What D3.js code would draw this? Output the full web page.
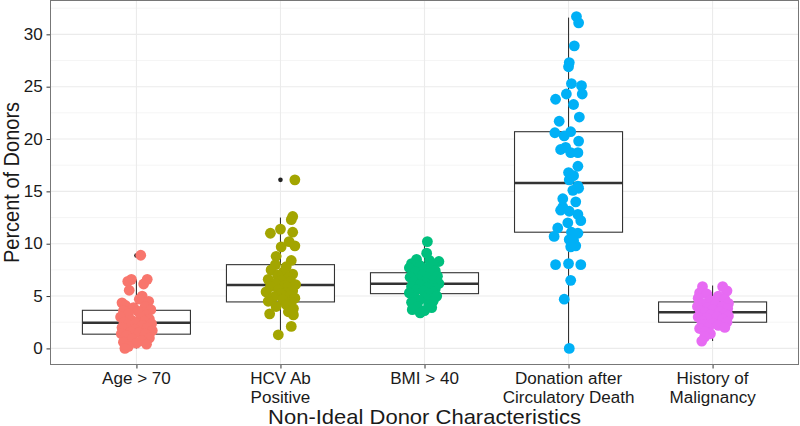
<!DOCTYPE html>
<html>
<head>
<meta charset="utf-8">
<script src="https://cdn.jsdelivr.net/npm/d3@7"></script>
<style>
  body { margin: 0; background: #fff; }
  svg { display: block; font-family: "Liberation Sans", Arial, sans-serif; }
</style>
</head>
<body>
<div id="chart"></div>
<script>
// categories and tick labels
const categories = ["age", "hcv", "bmi", "dcd", "malig"];
const tickLabels = ["Age > 70", "HCV Ab\nPositive", "BMI > 40", "Donation after\nCirculatory Death", "History of\nMalignancy"];
const colors = ["#F8766D", "#A3A500", "#00BF7D", "#00B0F6", "#E76BF3"];
const yTicks = [0, 5, 10, 15, 20, 25, 30];

// box statistics: [lower whisker, Q1, median, Q3, upper whisker]
const boxAge = [0.0, 1.36, 2.45, 3.64, 6.6];
const boxHcv = [1.2, 4.44, 6.06, 8.0, 12.5];
const boxBmi = [3.4, 5.23, 6.18, 7.23, 10.2];
const boxDcd = [0.0, 11.1, 15.8, 20.7, 31.6];
const boxMalig = [0.7, 2.5, 3.45, 4.44, 6.0];
const outliers = [[0, 8.88], [1, 16.1]];

// jittered points: values and horizontal jitter (fraction of category step)
const valAge = [8.9, 6.6, 6.4, 6.6, 6.15, 5.55, 5.0, 4.35, 4.7, 4.5, 4.1, 4.0, 3.9, 3.7, 3.6, 3.55, 3.3, 3.2, 3.0, 2.95, 2.8, 2.7, 2.6, 2.5, 2.45, 2.35, 2.3, 2.2, 2.0, 1.95, 1.85, 1.7, 1.6, 1.5, 1.4, 1.35, 1.2, 1.0, 0.9, 0.75, 0.6, 0.5, 0.4, 0.2, 0.0];
const jitAge = [0.03, -0.035, -0.06, 0.075, 0.05, -0.05, 0.04, -0.1, 0.02, 0.085, -0.075, 0.06, -0.02, 0.1, -0.09, 0.01, -0.055, 0.07, -0.11, 0.03, 0.09, -0.035, 0.055, -0.085, 0.0, 0.105, -0.06, 0.04, -0.1, 0.075, -0.015, 0.11, -0.04, 0.02, -0.105, 0.06, -0.07, 0.09, -0.03, 0.035, -0.09, 0.0, 0.07, -0.055, -0.08];

const valHcv = [16.1, 12.6, 12.3, 11.0, 11.4, 11.1, 10.2, 9.7, 9.8, 8.8, 8.4, 8.0, 7.8, 7.5, 7.3, 7.1, 7.0, 6.8, 6.6, 6.5, 6.4, 6.2, 6.1, 6.0, 5.9, 5.8, 5.6, 5.5, 5.4, 5.3, 5.2, 5.0, 4.9, 4.8, 4.7, 4.5, 4.4, 4.2, 4.0, 3.8, 3.5, 3.3, 3.2, 2.1, 1.3];
const jitHcv = [0.1, 0.085, 0.075, -0.07, 0.0, 0.085, 0.06, 0.005, 0.1, -0.03, 0.075, -0.035, 0.04, -0.065, 0.02, 0.085, -0.02, 0.055, -0.085, 0.005, 0.07, -0.04, 0.105, 0.03, -0.07, 0.05, -0.015, 0.085, -0.1, 0.035, 0.0, 0.065, -0.05, 0.1, 0.015, -0.085, 0.075, 0.04, -0.03, 0.09, 0.055, -0.075, 0.09, 0.075, -0.015];

const valBmi = [10.2, 9.1, 8.5, 8.4, 8.3, 8.1, 8.0, 7.9, 7.7, 7.6, 7.4, 7.3, 7.2, 7.0, 6.9, 6.8, 6.7, 6.6, 6.5, 6.4, 6.3, 6.2, 6.1, 6.0, 5.9, 5.8, 5.7, 5.6, 5.5, 5.4, 5.3, 5.2, 5.0, 4.9, 4.8, 4.6, 4.5, 4.4, 4.2, 4.0, 3.9, 3.7, 3.6, 3.4];
const jitBmi = [0.02, 0.015, -0.055, 0.035, 0.1, -0.09, 0.06, -0.03, -0.105, 0.005, 0.075, -0.065, 0.04, -0.015, 0.09, -0.1, 0.03, -0.04, 0.06, -0.075, 0.0, 0.1, -0.03, 0.05, -0.09, 0.02, 0.075, -0.055, -0.005, 0.055, -0.105, 0.035, 0.085, -0.07, 0.005, -0.035, 0.06, -0.09, 0.03, -0.05, 0.05, -0.085, 0.0, -0.03];

const valDcd = [31.7, 31.1, 28.9, 27.3, 26.9, 25.3, 25.1, 24.3, 24.3, 23.8, 23.3, 22.1, 21.7, 20.6, 20.7, 20.3, 19.8, 19.2, 19.0, 18.7, 18.7, 17.4, 16.8, 16.5, 16.1, 15.5, 15.3, 15.1, 14.3, 14.0, 13.5, 13.2, 13.1, 12.8, 12.2, 12.0, 11.5, 11.1, 11.0, 10.7, 10.4, 10.3, 9.8, 9.7, 8.1, 8.0, 8.0, 6.5, 4.7, 0.0];
const jitDcd = [0.055, 0.07, 0.04, 0.005, 0.0, 0.02, 0.09, 0.095, -0.015, -0.09, 0.035, 0.075, -0.065, -0.095, 0.015, -0.03, 0.07, -0.02, -0.055, 0.015, 0.065, 0.065, 0.0, 0.035, 0.005, 0.065, 0.07, 0.03, -0.04, 0.05, -0.04, -0.055, 0.005, 0.065, 0.085, -0.005, -0.075, 0.02, 0.065, -0.1, 0.005, 0.035, 0.05, 0.015, 0.0, -0.09, 0.085, 0.015, -0.03, 0.005];

const valMalig = [5.9, 5.9, 5.3, 5.5, 5.2, 5.0, 4.8, 4.7, 4.6, 4.3, 4.3, 4.2, 4.0, 4.0, 3.9, 3.8, 3.7, 3.6, 3.5, 3.4, 3.3, 3.2, 3.1, 3.0, 3.0, 2.9, 2.8, 2.6, 2.5, 2.4, 2.3, 2.2, 2.0, 2.0, 1.9, 1.6, 1.4, 1.1, 0.7];
const jitMalig = [-0.07, 0.07, -0.09, 0.1, -0.04, 0.04, -0.1, 0.085, -0.02, 0.11, -0.075, 0.02, -0.105, 0.065, -0.035, 0.105, 0.0, -0.085, 0.05, -0.055, 0.085, -0.015, 0.11, -0.1, 0.03, -0.04, 0.07, -0.075, 0.1, 0.005, -0.065, 0.04, -0.03, 0.085, -0.09, -0.05, -0.015, -0.055, -0.075];

const boxes = [boxAge, boxHcv, boxBmi, boxDcd, boxMalig];
const values = [valAge, valHcv, valBmi, valDcd, valMalig];
const jitters = [jitAge, jitHcv, jitBmi, jitDcd, jitMalig];

const width = 800;
const height = 426;
const panel = { left: 50, right: 799, top: 0, bottom: 365 };
const stretch = 1.08;   // text in the original is slightly wider than tall
const textColor = "#1a1a1a";

const svg = d3.select("#chart").append("svg")
    .attr("width", width)
    .attr("height", height);

const x = d3.scalePoint()
    .domain(categories)
    .range([panel.left, panel.right])
    .padding(0.6);
const step = x.step();

const y = d3.scaleLinear()
    .domain([-1.585, 33.28])
    .range([panel.bottom, panel.top]);

// grid
const grid = svg.append("g");
const minorTicks = d3.range(2.5, 33, 5);
grid.selectAll(".minor")
    .data(minorTicks)
    .join("line")
    .attr("x1", panel.left).attr("x2", panel.right)
    .attr("y1", d => y(d)).attr("y2", d => y(d))
    .attr("stroke", "#F2F2F2")
    .attr("stroke-width", 0.8);
grid.selectAll(".major")
    .data(yTicks)
    .join("line")
    .attr("x1", panel.left).attr("x2", panel.right)
    .attr("y1", d => y(d)).attr("y2", d => y(d))
    .attr("stroke", "#EBEBEB")
    .attr("stroke-width", 1.1);
grid.selectAll(".vmajor")
    .data(categories)
    .join("line")
    .attr("x1", d => x(d)).attr("x2", d => x(d))
    .attr("y1", panel.top).attr("y2", panel.bottom)
    .attr("stroke", "#EBEBEB")
    .attr("stroke-width", 1.1);

// boxplots
const boxW = step * 0.75;
const bx = svg.append("g");
categories.forEach((c, i) => {
    const [lo, q1, med, q3, hi] = boxes[i];
    const cx = x(c);
    const g = bx.append("g");
    g.append("line")
        .attr("x1", cx).attr("x2", cx)
        .attr("y1", y(q3)).attr("y2", y(hi))
        .attr("stroke", "#333").attr("stroke-width", 1.1);
    g.append("line")
        .attr("x1", cx).attr("x2", cx)
        .attr("y1", y(q1)).attr("y2", y(lo))
        .attr("stroke", "#333").attr("stroke-width", 1.1);
    g.append("rect")
        .attr("x", cx - boxW / 2)
        .attr("y", y(q3))
        .attr("width", boxW)
        .attr("height", y(q1) - y(q3))
        .attr("fill", "#fff")
        .attr("stroke", "#333")
        .attr("stroke-width", 1.1);
    g.append("line")
        .attr("x1", cx - boxW / 2).attr("x2", cx + boxW / 2)
        .attr("y1", y(med)).attr("y2", y(med))
        .attr("stroke", "#333").attr("stroke-width", 2.4);
});
bx.selectAll(".outlier")
    .data(outliers)
    .join("circle")
    .attr("cx", d => x(categories[d[0]]))
    .attr("cy", d => y(d[1]))
    .attr("r", 2.3)
    .attr("fill", "#222");

// jittered points
const pts = svg.append("g");
categories.forEach((c, i) => {
    pts.selectAll(".p" + i)
        .data(values[i].map((v, j) => ({ v, j: jitters[i][j] })))
        .join("circle")
        .attr("cx", d => x(c) + d.j * step)
        .attr("cy", d => y(d.v))
        .attr("r", 5.4)
        .attr("fill", colors[i]);
});

// panel border
svg.append("rect")
    .attr("x", panel.left + 0.5)
    .attr("y", panel.top + 0.5)
    .attr("width", panel.right - panel.left - 1)
    .attr("height", panel.bottom - panel.top - 1)
    .attr("fill", "none")
    .attr("stroke", "#777")
    .attr("stroke-width", 1);

// y axis
const yAxis = svg.append("g")
    .attr("transform", `translate(${panel.left},0)`)
    .call(d3.axisLeft(y).tickValues(yTicks).tickSize(3.5).tickPadding(3.2));
yAxis.select(".domain").remove();
yAxis.selectAll(".tick line").attr("stroke", "#333");
yAxis.selectAll(".tick text")
    .attr("fill", textColor)
    .attr("transform", `scale(${stretch},1)`)
    .style("font-size", "15.8px")
    .style("font-family", "'Liberation Sans', Arial, sans-serif");

// x axis
const xAxis = svg.append("g")
    .attr("transform", `translate(0,${panel.bottom})`)
    .call(d3.axisBottom(x).tickSize(3.5).tickFormat(""));
xAxis.select(".domain").remove();
xAxis.selectAll(".tick line").attr("stroke", "#333");

const xl = svg.append("g");
categories.forEach((c, i) => {
    const t = xl.append("text")
        .attr("transform", `translate(${x(c)},384) scale(${stretch},1)`)
        .attr("text-anchor", "middle")
        .attr("fill", textColor)
        .style("font-size", "15.8px");
    tickLabels[i].split("\n").forEach((line, k) => {
        t.append("tspan")
            .attr("x", 0)
            .attr("dy", k === 0 ? 0 : 19)
            .text(line);
    });
});

// axis titles
svg.append("text")
    .attr("transform", `translate(${(panel.left + panel.right) / 2},423.5) scale(1.1,1)`)
    .attr("text-anchor", "middle")
    .attr("fill", textColor)
    .style("font-size", "20px")
    .text("Non-Ideal Donor Characteristics");

svg.append("text")
    .attr("transform", `translate(19,${(panel.top + panel.bottom) / 2}) scale(1.1,1) rotate(-90)`)
    .attr("text-anchor", "middle")
    .attr("fill", textColor)
    .style("font-size", "20px")
    .text("Percent of Donors");
</script>
</body>
</html>
